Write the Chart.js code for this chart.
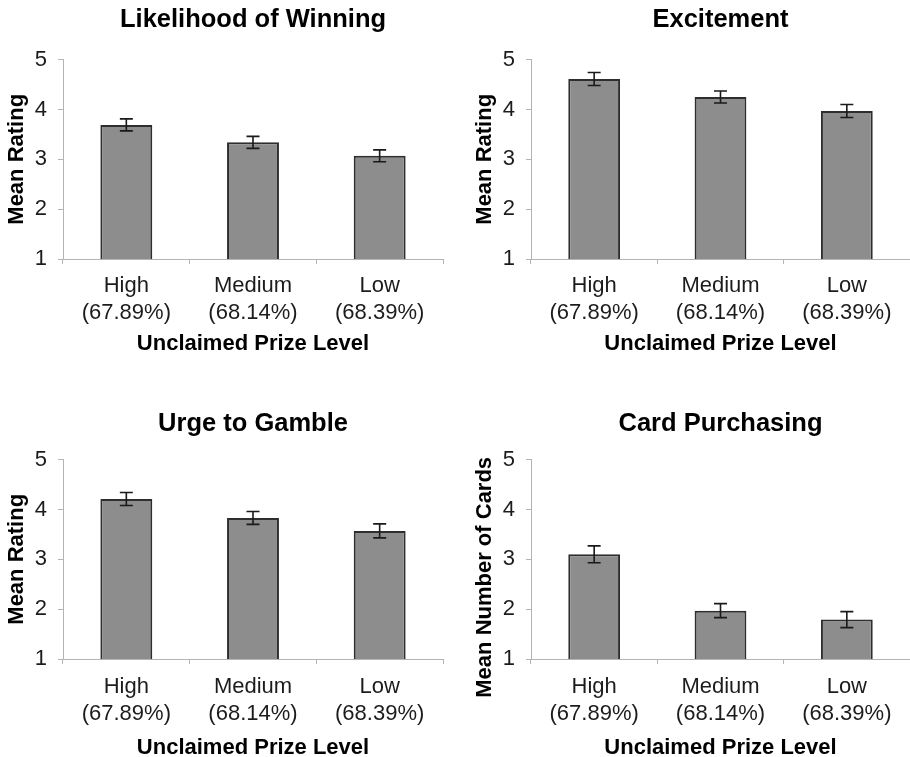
<!DOCTYPE html>
<html>
<head>
<meta charset="utf-8">
<script src="https://cdn.jsdelivr.net/npm/chart.js@4.4.1/dist/chart.umd.min.js"></script>
<style>
  html, body { margin: 0; padding: 0; background: #fff; width: 910px; height: 757px; overflow: hidden; }
  .panel { position: absolute; }
  canvas { display: block; }
</style>
</head>
<body>
<div class="panel" style="left:0;top:0"><canvas id="c1" width="455" height="370"></canvas></div>
<div class="panel" style="left:468px;top:0"><canvas id="c2" width="442" height="370"></canvas></div>
<div class="panel" style="left:0;top:400px"><canvas id="c3" width="455" height="370"></canvas></div>
<div class="panel" style="left:468px;top:400px"><canvas id="c4" width="442" height="370"></canvas></div>
<script>
// Prize levels shown on every x axis
const prizeLevels = [['High', '(67.89%)'], ['Medium', '(68.14%)'], ['Low', '(68.39%)']];
const yTicks = [1, 2, 3, 4, 5];

// Mean ratings and standard errors per measure
const likelihoodMeans = [3.69, 3.34, 3.07];
const likelihoodErrors = [0.12, 0.12, 0.12];

const excitementMeans = [4.61, 4.25, 3.97];
const excitementErrors = [0.13, 0.12, 0.13];

const urgeMeans = [4.21, 3.83, 3.57];
const urgeErrors = [0.13, 0.13, 0.14];

const cardMeans = [3.10, 1.97, 1.79];
const cardErrors = [0.17, 0.14, 0.16];

const FONT = '"Liberation Sans", Arial, Helvetica, sans-serif';
const AXIS_GREY = '#b4b4b4';
const TEXT = '#1c1c1c';

// Draws mean ± error whiskers with caps on top of each bar
const errorBars = {
  id: 'errorBars',
  afterDatasetsDraw(chart) {
    const { ctx } = chart;
    const y = chart.scales.y;
    chart.data.datasets.forEach((ds, i) => {
      if (!ds.errors) return;
      const meta = chart.getDatasetMeta(i);
      meta.data.forEach((bar, j) => {
        const v = ds.data[j];
        const e = ds.errors[j];
        const yTop = y.getPixelForValue(v + e);
        const yBot = y.getPixelForValue(v - e);
        const x = bar.x;
        const cap = 6.5;
        ctx.save();
        ctx.strokeStyle = '#1a1a1a';
        ctx.lineWidth = 1.6;
        ctx.beginPath();
        ctx.moveTo(x, yTop); ctx.lineTo(x, yBot);
        ctx.moveTo(x - cap, yTop); ctx.lineTo(x + cap, yTop);
        ctx.moveTo(x - cap, yBot); ctx.lineTo(x + cap, yBot);
        ctx.stroke();
        ctx.restore();
      });
    });
  }
};

// Rotated y-axis title, centred on the plot with an optional shift
const yTitle = {
  id: 'yTitle',
  afterDraw(chart, args, opts) {
    const { ctx, chartArea } = chart;
    ctx.save();
    ctx.font = 'bold 22px ' + FONT;
    ctx.fillStyle = '#000';
    ctx.textAlign = 'center';
    ctx.textBaseline = 'middle';
    ctx.translate(opts.x, (chartArea.top + chartArea.bottom) / 2 + (opts.shift || 0));
    ctx.rotate(-Math.PI / 2);
    ctx.fillText(opts.text, 0, 0);
    ctx.restore();
  }
};

function makeChart(id, title, yLabel, means, errors, row) {
  const right = row.padRight;
  return new Chart(document.getElementById(id), {
    type: 'bar',
    data: {
      labels: prizeLevels,
      datasets: [{
        data: means,
        errors: errors,
        backgroundColor: '#8d8d8d',
        borderColor: '#2e2e2e',
        borderWidth: 2,
        borderSkipped: 'start',
        barPercentage: 0.41,
        categoryPercentage: 1.0
      }]
    },
    options: {
      responsive: false,
      animation: false,
      events: [],
      layout: { padding: { left: 0, right: right, top: 0, bottom: 0 } },
      plugins: {
        legend: { display: false },
        tooltip: { enabled: false },
        title: {
          display: true,
          fullSize: false,
          text: title,
          color: '#000',
          font: { family: FONT, size: 25.5, weight: 'bold', lineHeight: 1.2 },
          padding: row.titlePad
        },
        yTitle: { text: yLabel, x: 16.5, shift: row.yShift }
      },
      scales: {
        x: {
          type: 'category',
          offset: true,
          afterFit(scale) { scale.height = 111; },
          grid: {
            offset: true,
            drawOnChartArea: false,
            drawTicks: true,
            tickLength: 5,
            color: AXIS_GREY,
            lineWidth: 1
          },
          border: { display: true, color: AXIS_GREY, width: 1 },
          ticks: {
            color: TEXT,
            padding: row.tickPad,
            maxRotation: 0,
            autoSkip: false,
            font: { family: FONT, size: 22, lineHeight: 1.2 }
          },
          title: {
            display: true,
            text: 'Unclaimed Prize Level',
            color: '#000',
            font: { family: FONT, size: 22, weight: 'bold', lineHeight: 1.2 },
            padding: { top: 0, bottom: row.xTitleBottom }
          }
        },
        y: {
          min: yTicks[0],
          max: yTicks[yTicks.length - 1],
          afterFit(scale) { scale.width = 63; },
          afterBuildTicks(scale) { scale.ticks = yTicks.map(v => ({ value: v })); },
          grid: {
            drawOnChartArea: false,
            drawTicks: true,
            tickLength: 5,
            color: AXIS_GREY,
            lineWidth: 1
          },
          border: { display: true, color: AXIS_GREY, width: 1 },
          ticks: {
            color: TEXT,
            padding: 11,
            font: { family: FONT, size: 22 }
          }
        }
      }
    },
    plugins: [errorBars, yTitle]
  });
}

const topRow = { titlePad: { top: 5, bottom: 24 }, tickPad: 9, xTitleBottom: 13, yShift: 0 };
const bottomRow = { titlePad: { top: 9, bottom: 20 }, tickPad: 10, xTitleBottom: 9, yShift: 0 };

makeChart('c1', 'Likelihood of Winning', 'Mean Rating', likelihoodMeans, likelihoodErrors, { ...topRow, padRight: 12 });
makeChart('c2', 'Excitement', 'Mean Rating', excitementMeans, excitementErrors, { ...topRow, padRight: 0 });
makeChart('c3', 'Urge to Gamble', 'Mean Rating', urgeMeans, urgeErrors, { ...bottomRow, padRight: 12 });
makeChart('c4', 'Card Purchasing', 'Mean Number of Cards', cardMeans, cardErrors, { ...bottomRow, padRight: 0, yShift: 18 });
</script>
</body>
</html>
